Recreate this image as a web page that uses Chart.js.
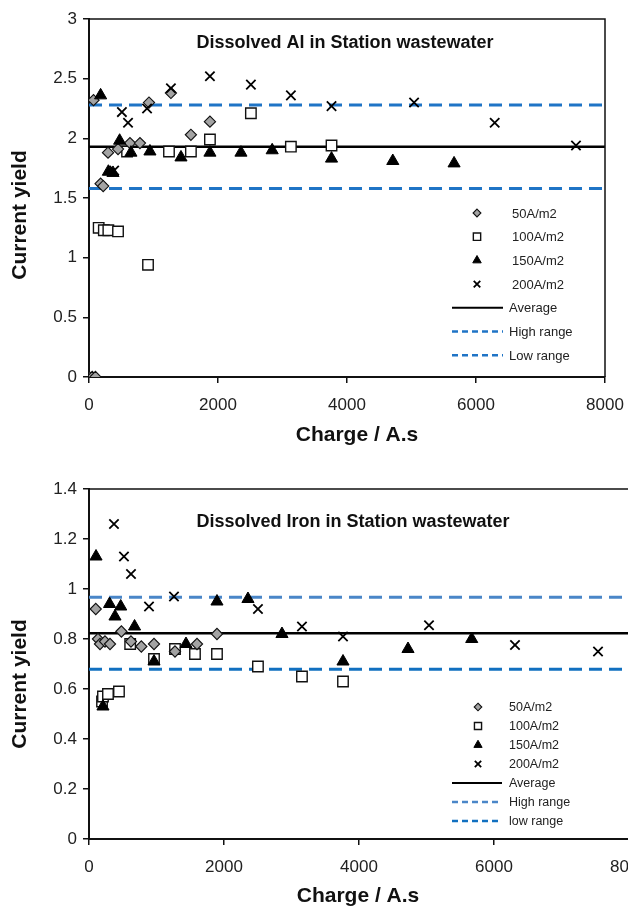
<!DOCTYPE html>
<html><head><meta charset="utf-8">
<script src="https://cdn.jsdelivr.net/npm/chart.js@4/dist/chart.umd.min.js"></script>
<style>
html,body{margin:0;padding:0;background:#fff;overflow:hidden;width:628px;height:909px;}
#wrap1{position:absolute;left:0;top:0;width:628px;height:452px;overflow:hidden;}
#wrap2{position:absolute;left:0;top:462px;width:628px;height:447px;overflow:hidden;}
</style></head><body>
<div id="wrap1"><canvas id="c1" width="628" height="452"></canvas></div>
<div id="wrap2"><canvas id="c2" width="668" height="447"></canvas></div>
<script>
// ---------- DATA ----------
const seriesLabels = ['50A/m2', '100A/m2', '150A/m2', '200A/m2'];
const xTicks = [0, 2000, 4000, 6000, 8000];

// Chart 1: Dissolved Al  [charge, current yield]
const al50  = [[0,0],[50,0],[100,0],[70,2.32],[180,1.62],[220,1.60],[295,1.88],[450,1.91],[635,1.96],[790,1.96],[930,2.30],[1270,2.38],[1580,2.03],[1875,2.14]];
const al100 = [[150,1.25],[230,1.23],[300,1.23],[450,1.22],[590,1.89],[915,0.94],[1240,1.89],[1580,1.89],[1875,1.99],[2510,2.21],[3130,1.93],[3760,1.94]];
const al150 = [[180,2.36],[300,1.72],[372,1.71],[475,1.98],[650,1.88],[945,1.89],[1426,1.84],[1875,1.88],[2356,1.88],[2840,1.90],[3760,1.83],[4710,1.81],[5660,1.79]];
const al200 = [[390,1.73],[510,2.22],[605,2.13],[900,2.25],[1270,2.42],[1875,2.52],[2510,2.45],[3130,2.36],[3760,2.27],[5040,2.30],[6290,2.13],[7550,1.94]];
const alAverage = 1.93, alHigh = 2.28, alLow = 1.58;
const alLineLabels = ['Average', 'High range', 'Low range'];

// Chart 2: Dissolved Iron
const fe50  = [[100,0.92],[133,0.80],[163,0.78],[237,0.79],[311,0.78],[480,0.83],[622,0.79],[775,0.77],[963,0.78],[1274,0.75],[1600,0.78],[1896,0.82]];
const fe100 = [[193,0.55],[207,0.57],[281,0.58],[444,0.59],[610,0.78],[963,0.72],[1274,0.76],[1570,0.74],[1896,0.74],[2503,0.69],[3155,0.65],[3763,0.63]];
const fe150 = [[104,1.13],[207,0.53],[305,0.94],[385,0.89],[470,0.93],[675,0.85],[963,0.71],[1437,0.78],[1896,0.95],[2355,0.96],[2859,0.82],[3763,0.71],[4726,0.76],[5670,0.80]];
const fe200 = [[370,1.26],[518,1.13],[622,1.06],[889,0.93],[1259,0.97],[2503,0.92],[3155,0.85],[3763,0.81],[5037,0.855],[6311,0.776],[7541,0.75]];
const feAverage = 0.823, feHigh = 0.967, feLow = 0.679;
const feLineLabels = ['Average', 'High range', 'low range'];

// ---------- HELPERS ----------
const FONT = '"Liberation Sans", Arial, Helvetica, sans-serif';
const toXY = arr => arr.map(p => ({x: p[0], y: p[1]}));

function marker(ctx, style, r, x, y, fill, stroke, bw) {
  ctx.save();
  ctx.fillStyle = fill; ctx.strokeStyle = stroke; ctx.lineWidth = bw;
  ctx.beginPath();
  if (style === 'rectRot') {
    ctx.moveTo(x, y - r); ctx.lineTo(x + r, y); ctx.lineTo(x, y + r); ctx.lineTo(x - r, y); ctx.closePath();
    ctx.fill(); ctx.stroke();
  } else if (style === 'rect') {
    const s = r * Math.SQRT1_2;
    ctx.rect(x - s, y - s, 2 * s, 2 * s); ctx.fill(); ctx.stroke();
  } else if (style === 'triangle') {
    const e = r * Math.sqrt(3) / 2;
    ctx.moveTo(x, y - r); ctx.lineTo(x + e, y + r / 2); ctx.lineTo(x - e, y + r / 2); ctx.closePath();
    ctx.fill(); ctx.stroke();
  } else if (style === 'crossRot') {
    const d = r * Math.SQRT1_2;
    ctx.moveTo(x - d, y - d); ctx.lineTo(x + d, y + d);
    ctx.moveTo(x + d, y - d); ctx.lineTo(x - d, y + d);
    ctx.stroke();
  }
  ctx.restore();
}

const decor = {
  id: 'decor',
  afterDraw(chart, args, o) {
    const ctx = chart.ctx, a = chart.chartArea;
    ctx.save();
    // frame top/right
    ctx.strokeStyle = '#111'; ctx.lineWidth = 1.5;
    ctx.beginPath(); ctx.moveTo(a.left, a.top); ctx.lineTo(a.right, a.top); ctx.lineTo(a.right, a.bottom); ctx.stroke();
    // in-plot title
    ctx.fillStyle = '#111'; ctx.textAlign = 'center'; ctx.textBaseline = 'middle';
    ctx.font = 'bold 18px ' + FONT;
    ctx.fillText(o.title, (a.left + a.right) / 2 + o.titleDx, a.top + o.titleDy);
    // axis titles
    ctx.font = 'bold 21px ' + FONT;
    ctx.fillText(o.xTitle, (a.left + a.right) / 2 + o.xTitleDx, a.bottom + o.xTitleDy);
    ctx.save();
    ctx.translate(o.yTitleX, (a.top + a.bottom) / 2 + o.yTitleDy);
    ctx.rotate(-Math.PI / 2);
    ctx.fillText(o.yTitle, 0, 0);
    ctx.restore();
    // legend
    ctx.font = o.legFont + 'px ' + FONT;
    ctx.textAlign = 'left';
    chart.data.datasets.forEach((ds, i) => {
      const y = a.top + o.legTop + i * o.legStep;
      ctx.fillStyle = '#222';
      if (ds.type === 'line') {
        ctx.save();
        ctx.strokeStyle = ds.borderColor; ctx.lineWidth = ds.borderWidth * 0.8;
        ctx.setLineDash(ds.borderDash ? [6, 4] : []);
        ctx.beginPath(); ctx.moveTo(a.left + o.lineX0, y); ctx.lineTo(a.left + o.lineX1, y); ctx.stroke();
        ctx.restore();
        ctx.fillText(ds.label, a.left + o.lineTextX, y + 1);
      } else {
        marker(ctx, ds.pointStyle, ds.pointRadius * o.legScale, a.left + o.markX, y,
               ds.backgroundColor, ds.borderColor, ds.borderWidth);
        ctx.fillText(ds.label, a.left + o.markTextX, y + 1);
      }
    });
    ctx.restore();
  }
};

function buildDatasets(d50, d100, d150, d200, avg, hi, lo, lineLabels, hiColor, loColor) {
  const xmin = xTicks[0], xmax = xTicks[xTicks.length - 1];
  const hline = (v, label, color, width, dash) => ({
    type: 'line', label, data: [{x: xmin, y: v}, {x: xmax, y: v}],
    borderColor: color, borderWidth: width, borderDash: dash, pointRadius: 0, fill: false, order: 5
  });
  return [
    {type: 'scatter', label: seriesLabels[0], data: toXY(d50), pointStyle: 'rectRot', pointRadius: 5.6,
     backgroundColor: '#a3a3a3', borderColor: '#111', borderWidth: 1.1, order: 1},
    {type: 'scatter', label: seriesLabels[1], data: toXY(d100), pointStyle: 'rect', pointRadius: 7.4,
     backgroundColor: '#ffffff', borderColor: '#111', borderWidth: 1.4, order: 2},
    {type: 'scatter', label: seriesLabels[2], data: toXY(d150), pointStyle: 'triangle', pointRadius: 7,
     backgroundColor: '#000', borderColor: '#000', borderWidth: 1, order: 0},
    {type: 'scatter', label: seriesLabels[3], data: toXY(d200), pointStyle: 'crossRot', pointRadius: 6.6,
     backgroundColor: '#000', borderColor: '#000', borderWidth: 1.8, order: 0},
    hline(avg, lineLabels[0], '#000', 2.6, undefined),
    hline(hi, lineLabels[1], hiColor, 3, [13, 7]),
    hline(lo, lineLabels[2], loColor, 3, [13, 7])
  ];
}

const fmtNum = v => String(Math.round(v * 1000) / 1000);

function makeOptions(yMax, yStep, yWidth, xHeight, padTop, padRight, deco) {
  return {
    responsive: false, animation: false, devicePixelRatio: 1,
    layout: {padding: {left: 0, top: padTop, right: padRight, bottom: 0}},
    plugins: {legend: {display: false}, tooltip: {enabled: false}, title: {display: false}, decor: deco},
    scales: {
      x: {
        type: 'linear', min: xTicks[0], max: xTicks[xTicks.length - 1],
        afterBuildTicks: s => { s.ticks = xTicks.map(v => ({value: v})); },
        afterFit: s => { s.height = xHeight; s.paddingLeft = 0; s.paddingRight = 0; },
        ticks: {color: '#222', font: {family: FONT, size: 17}, padding: 12, maxRotation: 0,
                callback: v => fmtNum(v)},
        grid: {drawOnChartArea: false, drawTicks: true, tickLength: 6, color: '#111', lineWidth: 1.5},
        border: {display: true, color: '#111', width: 2}
      },
      y: {
        type: 'linear', min: 0, max: yMax,
        ticks: {stepSize: yStep, color: '#222', font: {family: FONT, size: 17}, padding: 6,
                callback: v => fmtNum(v)},
        afterFit: s => { s.width = yWidth; s.paddingTop = 0; s.paddingBottom = 0; },
        grid: {drawOnChartArea: false, drawTicks: true, tickLength: 6, color: '#111', lineWidth: 1.5},
        border: {display: true, color: '#111', width: 2}
      }
    }
  };
}

new Chart(document.getElementById('c1'), {
  data: {datasets: buildDatasets(al50, al100, al150, al200, alAverage, alHigh, alLow, alLineLabels, '#1f74c6', '#1f74c6')},
  options: makeOptions(3, 0.5, 89, 75, 19, 23, {
    title: 'Dissolved Al in Station wastewater', titleDx: -2, titleDy: 24,
    xTitle: 'Charge / A.s', xTitleDx: 10, xTitleDy: 58,
    yTitle: 'Current yield', yTitleX: 20, yTitleDy: 17,
    legFont: 13, legTop: 194, legStep: 23.7, legScale: 0.7,
    markX: 388, markTextX: 423, lineX0: 363, lineX1: 414, lineTextX: 420
  }),
  plugins: [decor]
});

new Chart(document.getElementById('c2'), {
  data: {datasets: buildDatasets(fe50, fe100, fe150, fe200, feAverage, feHigh, feLow, feLineLabels, '#4a86c8', '#1170c0')},
  options: makeOptions(1.4, 0.2, 89, 70, 27, 39, {
    title: 'Dissolved Iron in Station wastewater', titleDx: -6, titleDy: 33,
    xTitle: 'Charge / A.s', xTitleDx: -1, xTitleDy: 57,
    yTitle: 'Current yield', yTitleX: 20, yTitleDy: 20,
    legFont: 12.5, legTop: 218, legStep: 19, legScale: 0.68,
    markX: 389, markTextX: 420, lineX0: 363, lineX1: 413, lineTextX: 420
  }),
  plugins: [decor]
});
</script>
</body></html>
